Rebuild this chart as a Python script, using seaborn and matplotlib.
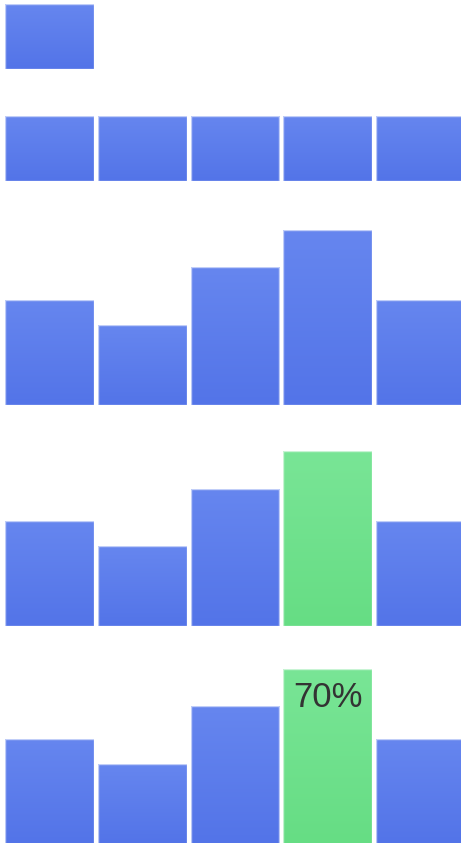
import numpy as np
import seaborn as sns
import matplotlib.pyplot as plt
from matplotlib.colors import LinearSegmentedColormap

# === Data ===
categories = ["A", "B", "C", "D", "E"]
step1_values = [26]
step2_values = [26, 26, 26, 26, 26]
values = [42, 32, 55, 70, 42]
highlight_idx = 3
highlight_label = "70%"

# === Style ===
sns.set_theme(style="white")
plt.rcParams['font.family'] = ['Liberation Sans', 'DejaVu Sans']

blue_top, blue_bottom = "#6686ef", "#5374e8"
green_top, green_bottom = "#79e596", "#66dd84"
edge = (1, 1, 1, 0.6)

W, H = 461, 845
fig = plt.figure(figsize=(W / 100, H / 100), dpi=100)

px_per_unit = 2.5
x_lim = (-0.536, 4.439)


def make_axes(bottom_px, height_px):
    # bottom_px is measured from top of the figure (bar baseline)
    ax = fig.add_axes([0, (H - bottom_px) / H, 1, height_px / H])
    ax.set_axis_off()
    return ax


def gradient_bars(ax, colors):
    # replace flat fills with a vertical gradient clipped to each bar
    for patch, (top, bottom) in zip(ax.patches, colors):
        x0, y0 = patch.get_x(), patch.get_y()
        w, h = patch.get_width(), patch.get_height()
        cmap = LinearSegmentedColormap.from_list("g", [bottom, top])
        grad = np.linspace(0, 1, 256).reshape(-1, 1)
        im = ax.imshow(grad, cmap=cmap, origin="lower", aspect="auto",
                       extent=[x0, x0 + w, y0, y0 + h],
                       zorder=patch.get_zorder() - 0.1)
        im.set_clip_path(patch)
        patch.set_facecolor("none")


def draw_row(bottom_px, height_px, vals, highlight=None, label=None):
    ax = make_axes(bottom_px, height_px)
    cats = categories[:len(vals)]
    sns.barplot(x=cats, y=vals, ax=ax, width=0.955, color=blue_bottom,
                edgecolor=edge, linewidth=1.0)
    colors = [(green_top, green_bottom) if i == highlight else (blue_top, blue_bottom)
              for i in range(len(vals))]
    gradient_bars(ax, colors)
    ax.set_xlim(*x_lim)
    ax.set_ylim(0, height_px / px_per_unit)
    if label is not None:
        ax.annotate(label, xy=(highlight, vals[highlight]), xytext=(0, -8),
                    textcoords="offset points", ha="center", va="top",
                    fontsize=25, color="#333333", zorder=5)
    return ax


# === Rows ===
draw_row(70, 70, step1_values)
draw_row(181.7, 100, step2_values)
draw_row(405.7, 215, values)
draw_row(627.3, 215, values, highlight=highlight_idx)
draw_row(844.5, 210, values, highlight=highlight_idx, label=highlight_label)

fig.savefig("out.png", dpi=100, facecolor="white")
